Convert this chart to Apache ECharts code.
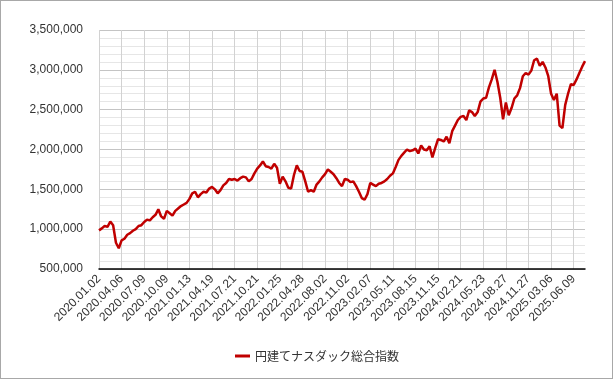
<!DOCTYPE html>
<html><head><meta charset="utf-8">
<script src="https://cdn.jsdelivr.net/npm/echarts@6/dist/echarts.min.js"></script>
<style>
html,body{margin:0;padding:0;background:#fff;}
#frame{position:absolute;left:0;top:0;width:611px;height:377px;border:1px solid #a8a8a8;}
#chart{position:absolute;left:0;top:0;width:613px;height:379px;}
</style></head>
<body>
<div id="frame"></div>
<div id="chart"></div>
<script>
const seriesName = '円建てナスダック総合指数';
const tickLabels = ['2020.01.02','2020.04.06','2020.07.09','2020.10.09','2021.01.13','2021.04.19','2021.07.21','2021.10.21','2022.01.25','2022.04.28','2022.08.02','2022.11.02','2023.02.07','2023.05.11','2023.08.15','2023.11.15','2024.02.21','2024.05.23','2024.08.27','2024.11.27','2025.03.06','2025.06.09'];
const values = [
985000,1010000,1040000,1030000,1095000,1050000,830000,760000,
860000,880000,930000,950000,980000,1000000,1040000,1050000,
1090000,1120000,1110000,1150000,1180000,1250000,1160000,1130000,
1230000,1200000,1170000,1230000,1260000,1290000,1310000,1330000,
1380000,1450000,1470000,1400000,1440000,1470000,1460000,1510000,
1530000,1500000,1450000,1490000,1550000,1580000,1630000,1620000,
1630000,1610000,1640000,1660000,1650000,1600000,1630000,1700000,
1760000,1800000,1850000,1790000,1780000,1760000,1820000,1770000,
1570000,1660000,1600000,1520000,1510000,1680000,1800000,1730000,
1720000,1600000,1470000,1490000,1470000,1560000,1600000,1650000,
1690000,1750000,1720000,1690000,1640000,1580000,1540000,1630000,
1620000,1590000,1600000,1540000,1470000,1390000,1370000,1440000,
1580000,1560000,1540000,1570000,1580000,1600000,1630000,1670000,
1700000,1780000,1870000,1920000,1960000,2000000,1980000,1990000,
2010000,1950000,2050000,2000000,1990000,2040000,1900000,2020000,
2130000,2120000,2100000,2160000,2080000,2230000,2300000,2370000,
2410000,2420000,2370000,2490000,2470000,2420000,2470000,2600000,
2640000,2650000,2780000,2880000,3000000,2850000,2650000,2380000,
2590000,2430000,2520000,2640000,2680000,2770000,2920000,2960000,
2940000,2990000,3120000,3140000,3050000,3100000,3030000,2920000,
2700000,2620000,2700000,2300000,2270000,2560000,2700000,2820000,
2810000,2880000,2960000,3040000,3110000
];
const yTicks = [500000,1000000,1500000,2000000,2500000,3000000,3500000];
const pointsPerTick = 8;

function parseD(s){const p=s.split('.').map(Number);return Date.UTC(p[0],p[1]-1,p[2]);}
function fmtD(t){const d=new Date(t);return d.getUTCFullYear()+'.'+String(d.getUTCMonth()+1).padStart(2,'0')+'.'+String(d.getUTCDate()).padStart(2,'0');}
const categories = values.map((_,i)=>{
  const k=Math.floor(i/pointsPerTick), r=i%pointsPerTick;
  if(r===0 && k<tickLabels.length) return tickLabels[k];
  const kk=Math.min(k,tickLabels.length-2);
  const a=parseD(tickLabels[kk]), b=parseD(tickLabels[kk+1]);
  const base=parseD(tickLabels[k]);
  return fmtD(base+(b-a)*r/pointsPerTick);
});

const chart = echarts.init(document.getElementById('chart'));
chart.setOption({
  animation:false,
  backgroundColor:'transparent',
  textStyle:{fontFamily:'"Liberation Sans", Arial, "Noto Sans CJK JP", sans-serif'},
  grid:{left:99,right:28,top:30,bottom:110,containLabel:false},
  legend:{
    data:[seriesName],
    left:230, top:345,
    icon:'rect', itemWidth:15, itemHeight:3,
    textStyle:{fontSize:12,color:'#333',fontFamily:'"Noto Sans CJK JP", sans-serif'}
  },
  xAxis:{
    type:'category', data:categories, boundaryGap:false,
    axisLine:{lineStyle:{color:'#000',width:1.5}},
    axisTick:{show:false},
    axisLabel:{interval:pointsPerTick-1, rotate:45, fontSize:12, color:'#333', margin:8},
    splitLine:{show:true, interval:pointsPerTick-1, lineStyle:{color:'#d2d2d2',width:1}}
  },
  yAxis:{
    type:'value', min:yTicks[0], max:yTicks[yTicks.length-1], interval:500000,
    axisLine:{show:false}, axisTick:{show:false},
    axisLabel:{fontSize:12,color:'#333',margin:16,formatter:v=>v.toLocaleString('en-US')},
    splitLine:{lineStyle:{color:'#c4c4c4',width:1}},
    minorTick:{show:false, splitNumber:5},
    minorSplitLine:{show:true,lineStyle:{color:'#e6e6e6',width:1}}
  },
  series:[{
    name:seriesName, type:'line', data:values, showSymbol:false, symbol:'none',
    lineStyle:{color:'#c00000',width:2.5}, itemStyle:{color:'#c00000'}
  }]
});
</script>
</body></html>
